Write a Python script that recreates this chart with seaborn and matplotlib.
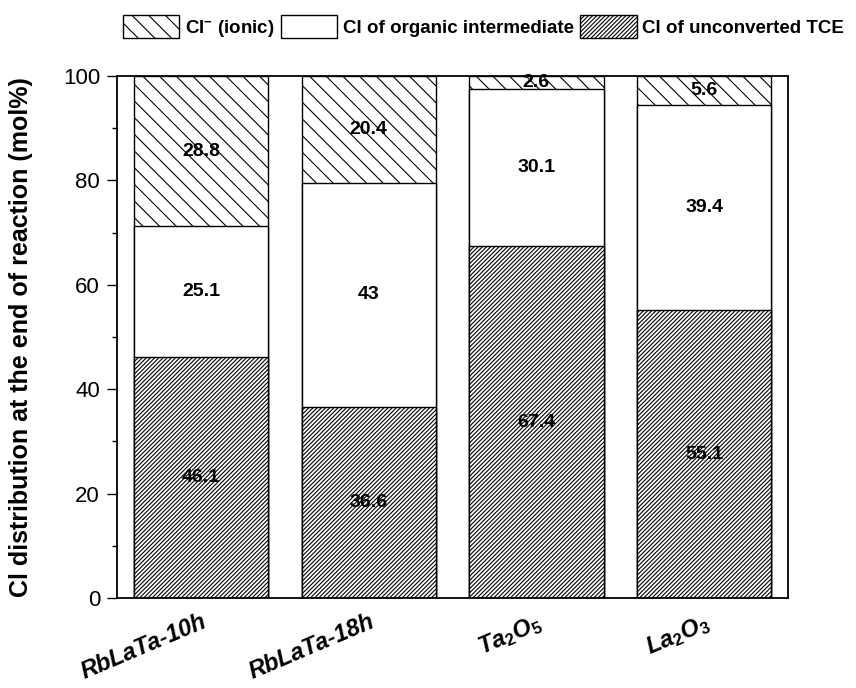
import matplotlib
matplotlib.use("Agg")
import matplotlib.pyplot as plt
import seaborn as sns
import pandas as pd
import numpy as np
from matplotlib.patches import Patch
from matplotlib.ticker import MultipleLocator

# ---- data ----
categories = ["RbLaTa-10h", "RbLaTa-18h", "Ta2O5", "La2O3"]
tick_labels = ["RbLaTa-10h", "RbLaTa-18h",
               r"Ta$_\mathit{2}$O$_\mathit{5}$", r"La$_\mathit{2}$O$_\mathit{3}$"]
unconverted = [46.1, 36.6, 67.4, 55.1]   # Cl of unconverted TCE (bottom)
organic = [25.1, 43.0, 30.1, 39.4]       # Cl of organic intermediate (middle)
ionic = [28.8, 20.4, 2.6, 5.6]           # Cl- (ionic) (top)
series_names = [r"Cl$^{-}$ (ionic)", "Cl of organic intermediate", "Cl of unconverted TCE"]
yticks = [0, 20, 40, 60, 80, 100]

sns.set_style("ticks")
plt.rcParams["font.family"] = ["Liberation Sans", "DejaVu Sans"]
plt.rcParams["mathtext.fontset"] = "custom"
plt.rcParams["mathtext.rm"] = "Liberation Sans:bold"
plt.rcParams["mathtext.bf"] = "Liberation Sans:bold"
plt.rcParams["mathtext.it"] = "Liberation Sans:italic:bold"
plt.rcParams["hatch.linewidth"] = 0.8
plt.rcParams["hatch.color"] = "black"
for k in ["text.color", "axes.labelcolor", "xtick.color", "ytick.color", "axes.edgecolor"]:
    plt.rcParams[k] = "black"

df = pd.DataFrame({"cat": categories,
                   "bottom": unconverted,
                   "mid": organic,
                   "top": ionic})
df["cum_mid"] = df["bottom"] + df["mid"]
df["cum_top"] = df["cum_mid"] + df["top"]

fig, ax = plt.subplots(figsize=(8.56, 6.88), dpi=100)
fig.subplots_adjust(left=0.1367, right=0.9206, bottom=0.1308, top=0.8895)

TOP_HATCH = "\\\\"
BOT_HATCH = "////////"

common = dict(x="cat", data=df, color="white", edgecolor="black", linewidth=1.0,
              saturation=1, errorbar=None, ax=ax, width=0.8)
sns.barplot(y="cum_top", hatch=TOP_HATCH, **common)
sns.barplot(y="cum_mid", **common)
sns.barplot(y="bottom", hatch=BOT_HATCH, **common)

# value labels at segment centres
for i in range(len(categories)):
    b = unconverted[i]
    m = organic[i]
    t = ionic[i]
    for base, v in [(0, b), (b, m), (b + m, t)]:
        ax.text(i, base + v / 2, f"{v:g}", ha="center", va="center",
                fontsize=14, fontweight="bold", color="black")

ax.set_xlim(-0.5, len(categories) - 0.5)
ax.set_ylim(0, 100)
ax.set_yticks(yticks)
ax.yaxis.set_minor_locator(MultipleLocator(10))
ax.tick_params(axis="y", which="major", direction="out", length=7.2, width=1.0,
               labelsize=16, pad=5)
ax.tick_params(axis="y", which="minor", direction="out", length=3.6, width=1.0)
ax.tick_params(axis="x", length=0, pad=9)
ax.set_xticks(range(len(categories)))
ax.set_xticklabels(tick_labels, rotation=23, ha="right", rotation_mode="anchor",
                   fontsize=17, fontweight="bold", fontstyle="italic")
ax.set_xlabel("")
ax.set_ylabel("Cl distribution at the end of reaction (mol%)", fontsize=18,
              fontweight="bold")
ax.yaxis.set_label_coords(-0.125, 0.5)

for s in ax.spines.values():
    s.set_visible(True)
    s.set_linewidth(1.3)
    s.set_color("black")

handles = [Patch(facecolor="white", edgecolor="black", hatch=TOP_HATCH, linewidth=1.0),
           Patch(facecolor="white", edgecolor="black", linewidth=1.0),
           Patch(facecolor="white", edgecolor="black", hatch=BOT_HATCH, linewidth=1.0)]
fig.legend(handles, series_names, loc="center", bbox_to_anchor=(0.565, 0.961),
           ncol=3, frameon=False, handlelength=3.0, handleheight=1.55,
           handletextpad=0.3, columnspacing=0.35, borderaxespad=0,
           prop={"weight": "bold", "size": 13.5})

fig.savefig("out.png", dpi=100)
